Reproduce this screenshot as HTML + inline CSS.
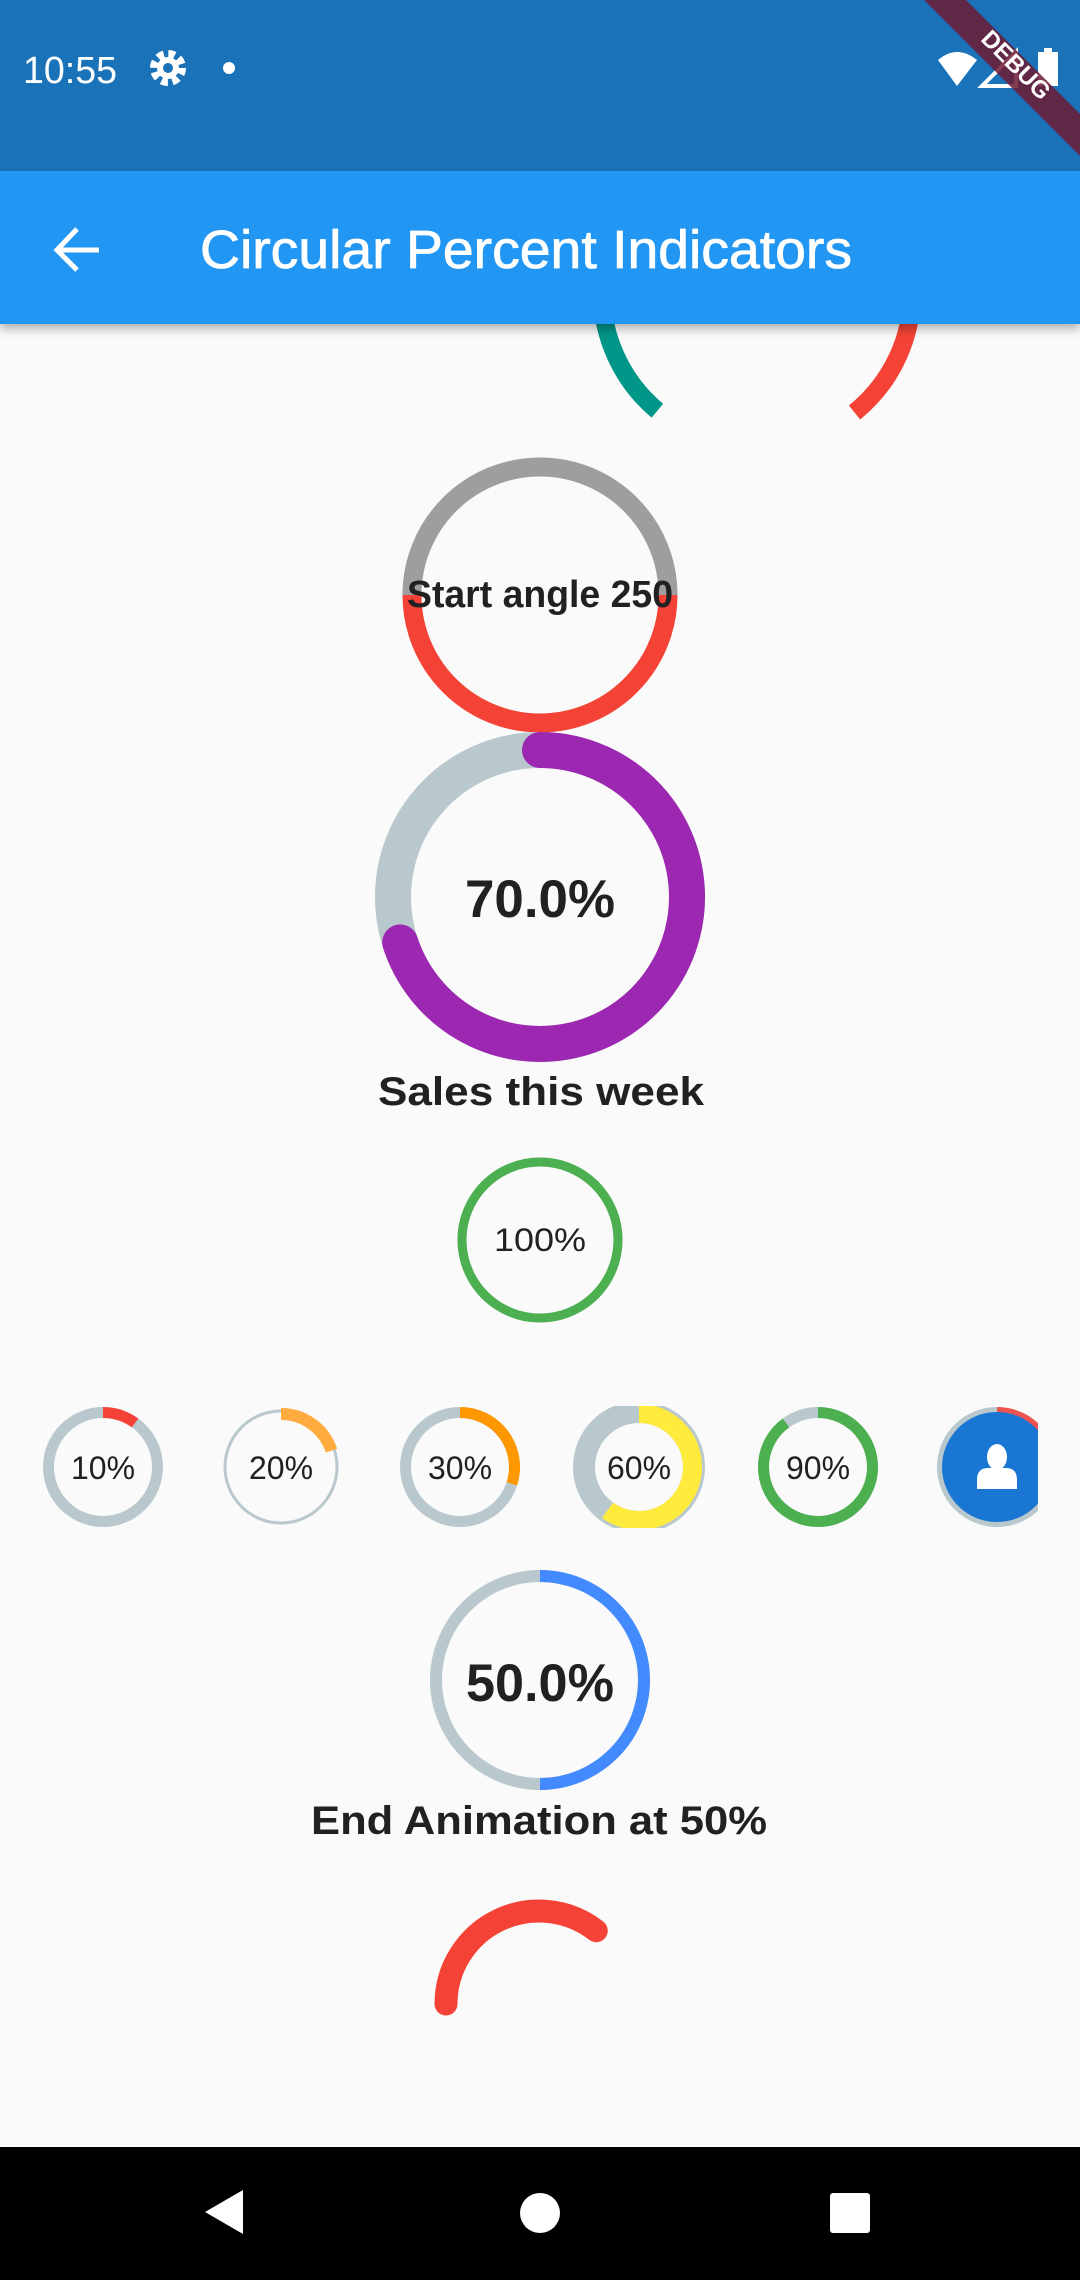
<!DOCTYPE html>
<html><head><meta charset="utf-8"><style>
html,body{margin:0;padding:0;background:#fafafa;width:1080px;height:2280px;overflow:hidden}
svg{display:block}
text{font-family:"Liberation Sans",sans-serif}
</style></head><body>
<svg id="page" width="1080" height="2280" viewBox="0 0 1080 2280" xmlns="http://www.w3.org/2000/svg">
<defs>
<filter id="sh" x="-5%" y="-50%" width="110%" height="200%"><feDropShadow dx="0" dy="5" stdDeviation="5" flood-color="#000" flood-opacity="0.3"/></filter>
<clipPath id="rowclip"><rect x="0" y="1406" width="1038" height="122"/></clipPath>
</defs>
<rect width="1080" height="2280" fill="#fafafa"/>
<g id="marks"></g>
<g id="rowmarks" clip-path="url(#rowclip)"></g>

<text x="540" y="607" font-size="38" font-weight="bold" fill="#212121" text-anchor="middle" textLength="266" lengthAdjust="spacingAndGlyphs">Start angle 250</text>
<text x="540" y="917" font-size="53" font-weight="bold" fill="#212121" text-anchor="middle" textLength="150" lengthAdjust="spacingAndGlyphs">70.0%</text>
<text x="541" y="1105" font-size="40" font-weight="bold" fill="#212121" text-anchor="middle" textLength="326" lengthAdjust="spacingAndGlyphs">Sales this week</text>
<text x="540" y="1251" font-size="32" fill="#212121" text-anchor="middle" textLength="92" lengthAdjust="spacingAndGlyphs">100%</text>
<text x="540" y="1701" font-size="53" font-weight="bold" fill="#212121" text-anchor="middle" textLength="148" lengthAdjust="spacingAndGlyphs">50.0%</text>
<text x="539" y="1834" font-size="40" font-weight="bold" fill="#212121" text-anchor="middle" textLength="456" lengthAdjust="spacingAndGlyphs">End Animation at 50%</text>

<g id="rowtext" font-size="32" fill="#212121" text-anchor="middle"></g>

<!-- status bar -->
<rect x="0" y="0" width="1080" height="171" fill="#1a72b9"/>
<text x="23" y="83" font-size="38" fill="#fff" textLength="94" lengthAdjust="spacingAndGlyphs">10:55</text>
<g transform="translate(168,68)">
<circle r="13" fill="none" stroke="#fff" stroke-width="10" stroke-dasharray="6 4.2"/><circle r="11" fill="#fff"/><circle r="5" fill="#1a72b9"/></g>
<circle cx="229" cy="68" r="6" fill="#fff"/>
<path d="M938 60 Q957 44 977 60 L957 86 Z" fill="#fff"/>
<path d="M1016 52 L1016 86 L982 86 Z" fill="none" stroke="#fff" stroke-width="4"/>
<rect x="1038" y="52" width="20" height="34" fill="#fff"/>
<rect x="1044" y="48" width="8" height="5" fill="#fff"/>
<g>
<polygon points="924,0 966,0 1080,114 1080,156" fill="#6d1a32" opacity="0.85"/>
<text x="0" y="0" font-size="24" font-weight="bold" fill="#fff" text-anchor="middle" transform="translate(1016,65) rotate(45)" dy="8">DEBUG</text>
</g>
<!-- app bar -->
<rect x="0" y="171" width="1080" height="153" fill="#2196f3" filter="url(#sh)"/>
<g stroke="#fff" stroke-width="5" fill="none">
<path d="M99 250 L58 250 M77 229 L57 250 L77 270"/></g>
<text x="200" y="268" font-size="54" fill="#fff" stroke="#fff" stroke-width="0.8" textLength="652" lengthAdjust="spacingAndGlyphs">Circular Percent Indicators</text>
<!-- nav bar -->
<rect x="0" y="2147" width="1080" height="133" fill="#000"/>
<polygon points="205,2212 243,2190 243,2234" fill="#fff"/>
<circle cx="540" cy="2213" r="20" fill="#fff"/>
<rect x="830" y="2193" width="40" height="40" rx="3" fill="#fff"/>
</svg>
<script>
// indicator data
const mainPercents = [70, 100, 50];
const startAnglePercent = [50];
const topArcTeal = [220, 330];
const topArcRed = [30, 141];
const bottomArcSpan = [270, 398];
const rowPercents = [10, 20, 30, 60, 90, 15];
const rowLabels = ['10%', '20%', '30%', '60%', '90%', ''];

const NS = 'http://www.w3.org/2000/svg';
const marks = document.getElementById('marks');
const rowmarks = document.getElementById('rowmarks');
const rowtext = document.getElementById('rowtext');
function pt(cx, cy, r, a) { const t = a * Math.PI / 180; return [cx + r * Math.sin(t), cy - r * Math.cos(t)]; }
function arcPath(cx, cy, r, a0, a1) {
  if (a1 - a0 >= 359.99) a1 = a0 + 359.99;
  const p0 = pt(cx, cy, r, a0), p1 = pt(cx, cy, r, a1);
  const large = (a1 - a0) > 180 ? 1 : 0;
  return 'M' + p0[0] + ' ' + p0[1] + ' A' + r + ' ' + r + ' 0 ' + large + ' 1 ' + p1[0] + ' ' + p1[1];
}
function arc(parent, cx, cy, r, a0, a1, color, w, cap, name) {
  const p = document.createElementNS(NS, 'path');
  p.setAttribute('d', arcPath(cx, cy, r, a0, a1));
  p.setAttribute('fill', 'none');
  p.setAttribute('stroke', color);
  p.setAttribute('stroke-width', w);
  p.setAttribute('stroke-linecap', cap || 'butt');
  
  
  parent.appendChild(p);
  return p;
}
function ring(parent, cx, cy, r, color, w, name) {
  const c = document.createElementNS(NS, 'circle');
  c.setAttribute('cx', cx); c.setAttribute('cy', cy); c.setAttribute('r', r);
  c.setAttribute('fill', 'none'); c.setAttribute('stroke', color); c.setAttribute('stroke-width', w);
  
  
  parent.appendChild(c);
  return c;
}
const BG = '#b8c8cd';
arc(marks, 757, 292, 155, topArcTeal[0], topArcTeal[1], '#009688', 18, 'butt', 'top-teal-arc');
arc(marks, 757, 292, 155, topArcRed[0], topArcRed[1], '#f44336', 18, 'butt', 'top-red-arc');
const sa = startAnglePercent[0] / 100 * 360;
arc(marks, 540, 595, 128, 270, 270 + (360 - sa), '#9e9e9e', 19, 'butt', 'start-angle-background');
arc(marks, 540, 595, 128, 90, 90 + sa, '#f44336', 19, 'butt', 'start-angle-progress');
ring(marks, 540, 897, 147, BG, 36, 'sales-background-ring');
arc(marks, 540, 897, 147, 0, mainPercents[0] / 100 * 360, '#9c27b0', 36, 'round', 'sales-progress-arc');
ring(marks, 540, 1240, 78, BG, 9, 'full-background-ring');
arc(marks, 540, 1240, 78, 0, mainPercents[1] / 100 * 360, '#4caf50', 9, 'butt', 'full-progress-arc');
ring(marks, 540, 1680, 104, BG, 12, 'end-animation-background-ring');
arc(marks, 540, 1680, 104, 0, mainPercents[2] / 100 * 360, '#448aff', 12, 'butt', 'end-animation-progress-arc');
arc(marks, 539, 2004, 93, bottomArcSpan[0], bottomArcSpan[1], '#f44336', 23, 'round', 'bottom-red-arc');
const rowCx = [103, 281, 460, 639, 818, 997];
const rowCy = 1467;
const rowStyle = [
  {r: 54.5, bw: 11, pw: 11, c: '#f44336', pr: 54.5},
  {r: 56, bw: 3, pw: 12, c: '#ffab40', pr: 53},
  {r: 54.5, bw: 11, pw: 11, c: '#ff9800', pr: 54.5},
  {r: 55, bw: 22, pw: 19, c: '#ffeb3b', pr: 53.5},
  {r: 54.5, bw: 11, pw: 11, c: '#4caf50', pr: 54.5},
  {r: 56, bw: 8, pw: 8, c: '#ef5350', pr: 56}
];
rowPercents.forEach(function (v, i) {
  const s = rowStyle[i];
  ring(rowmarks, rowCx[i], rowCy, s.r, BG, s.bw, 'row-ring-' + (i + 1));
  arc(rowmarks, rowCx[i], rowCy, s.pr, 0, v / 100 * 360, s.c, s.pw, 'butt', 'row-progress-' + (i + 1));
  if (rowLabels[i]) {
    const t = document.createElementNS(NS, 'text');
    t.setAttribute('x', rowCx[i]); t.setAttribute('y', rowCy + 12);
    
    
    t.textContent = rowLabels[i];
    rowtext.appendChild(t);
  }
});
const av = document.createElementNS(NS, 'g');


av.innerHTML = '<circle cx="997" cy="1467" r="55" fill="#1976d2"/><ellipse cx="997" cy="1457" rx="10" ry="13" fill="#fff"/><path d="M977 1489 L977 1480 Q977 1468 988 1468 L1006 1468 Q1017 1468 1017 1480 L1017 1489 Z" fill="#fff"/>';
rowmarks.appendChild(av);
</script>
</body></html>
